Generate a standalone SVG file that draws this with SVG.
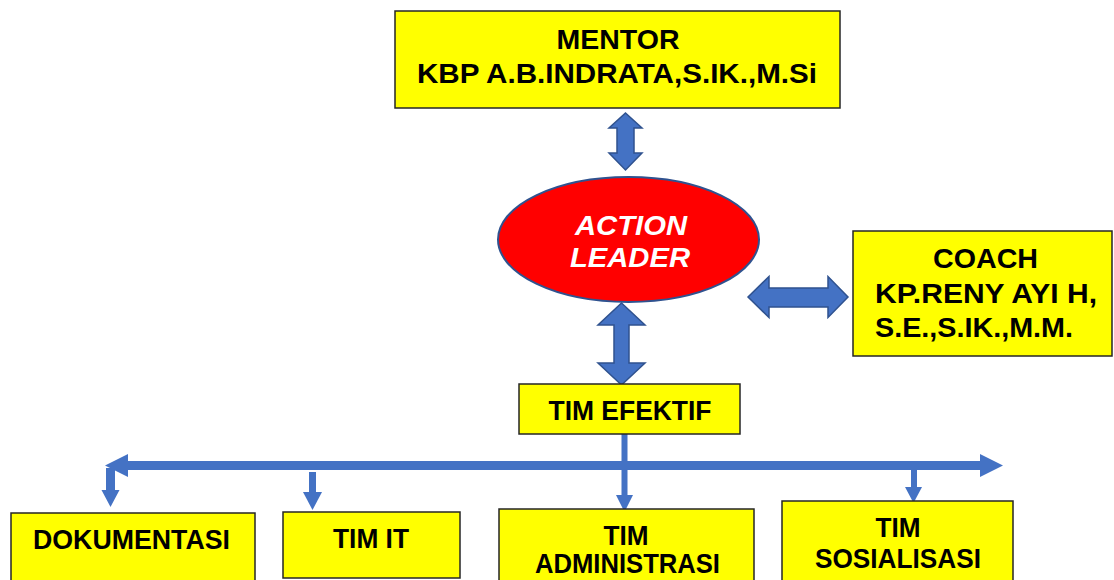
<svg xmlns="http://www.w3.org/2000/svg" width="1114" height="580" viewBox="0 0 1114 580">
<style>
.box{fill:#FFFF00;stroke:#262626;stroke-width:1.5}
.t{font-family:"Liberation Sans",Arial,sans-serif;font-weight:bold;fill:#000;font-size:28px}
.tm{text-anchor:middle}
.blk{fill:#4472C4;stroke:#2F528F;stroke-width:1.5;stroke-linejoin:miter}
.bus{fill:#4472C4}
</style>
<rect width="1114" height="580" fill="#fff"/>
<g id="connectors">
<polygon class="blk" points="625.5,113 642,128 634,128 634,153 642,153 625.5,170 609,153 617,153 617,128 609,128"/>
<polygon class="blk" points="621.5,303 645,325 629,325 629,363 645,363 621.5,385 598,363 614,363 614,325 598,325"/>
<polygon class="blk" points="748,297 769,276.5 769,288 828,288 828,276.5 848,297 828,317.5 828,307 769,307 769,317.5"/>
<polygon class="bus" points="105,465.5 128,454 128,461 980,461 980,454 1003,465.5 980,477 980,470 128,470 128,477"/>
<rect class="bus" x="106" y="468" width="9" height="23"/>
<polygon class="bus" points="101.5,490 119.5,490 110.5,507"/>
<rect class="bus" x="309" y="472" width="7" height="21"/>
<polygon class="bus" points="303,492 322,492 312.5,510"/>
<rect class="bus" x="621.5" y="434" width="6" height="62"/>
<polygon class="bus" points="616,495 633,495 624.5,512"/>
<rect class="bus" x="911" y="468" width="6" height="20"/>
<polygon class="bus" points="905,487 922,487 913.5,503"/>
</g>
<g id="mentor">
<rect class="box" x="395" y="11" width="445" height="97"/>
<text class="t tm" x="618" y="49" font-size="29" textLength="123" lengthAdjust="spacingAndGlyphs">MENTOR</text>
<text class="t tm" x="617" y="83" textLength="400" lengthAdjust="spacingAndGlyphs">KBP A.B.INDRATA,S.IK.,M.Si</text>
</g>
<g id="action-leader">
<ellipse cx="628.5" cy="239.5" rx="130.5" ry="62.5" fill="#FF0000" stroke="#2F528F" stroke-width="2"/>
<text class="t tm" x="631" y="235" font-style="italic" style="fill:#fff" textLength="112" lengthAdjust="spacingAndGlyphs">ACTION</text>
<text class="t tm" x="630" y="267" font-style="italic" style="fill:#fff" textLength="120" lengthAdjust="spacingAndGlyphs">LEADER</text>
</g>
<g id="coach">
<rect class="box" x="853" y="231" width="259" height="125"/>
<text class="t tm" x="985.5" y="268" textLength="105" lengthAdjust="spacingAndGlyphs">COACH</text>
<text class="t" x="875" y="303" textLength="222" lengthAdjust="spacingAndGlyphs">KP.RENY AYI H,</text>
<text class="t" x="875" y="337" textLength="198" lengthAdjust="spacingAndGlyphs">S.E.,S.IK.,M.M.</text>
</g>
<g id="tim-efektif">
<rect class="box" x="519" y="384" width="221" height="50"/>
<text class="t tm" x="630" y="420" font-size="26" textLength="163" lengthAdjust="spacingAndGlyphs">TIM EFEKTIF</text>
</g>
<g id="dokumentasi">
<rect class="box" x="11" y="513" width="244" height="80"/>
<text class="t tm" x="131.5" y="549" font-size="26" textLength="197" lengthAdjust="spacingAndGlyphs">DOKUMENTASI</text>
</g>
<g id="tim-it">
<rect class="box" x="283" y="512" width="177" height="66"/>
<text class="t tm" x="371" y="548" font-size="26" textLength="76" lengthAdjust="spacingAndGlyphs">TIM IT</text>
</g>
<g id="tim-administrasi">
<rect class="box" x="499" y="509" width="255" height="85"/>
<text class="t tm" x="626" y="545" font-size="26" textLength="45" lengthAdjust="spacingAndGlyphs">TIM</text>
<text class="t tm" x="627.5" y="573" font-size="26" textLength="185" lengthAdjust="spacingAndGlyphs">ADMINISTRASI</text>
</g>
<g id="tim-sosialisasi">
<rect class="box" x="782" y="501" width="231" height="90"/>
<text class="t tm" x="898" y="537" font-size="26" textLength="45" lengthAdjust="spacingAndGlyphs">TIM</text>
<text class="t tm" x="898" y="568" font-size="26" textLength="166" lengthAdjust="spacingAndGlyphs">SOSIALISASI</text>
</g>
</svg>
